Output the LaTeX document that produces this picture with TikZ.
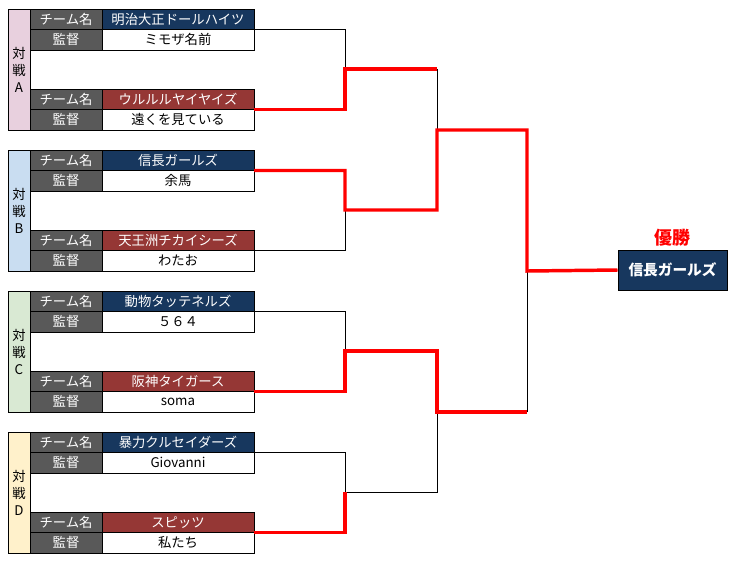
\documentclass[tikz,border=0pt]{standalone}
\usepackage{fontspec}
\setmainfont{Noto Sans CJK JP}
\usetikzlibrary{positioning}

\definecolor{navy}{HTML}{17375E}
\definecolor{wine}{HTML}{953735}
\definecolor{cellgray}{HTML}{595959}
\definecolor{sideA}{HTML}{E8D0DE}
\definecolor{sideB}{HTML}{C9DDF1}
\definecolor{sideC}{HTML}{D9E9D3}
\definecolor{sideD}{HTML}{FFF1CB}

\tikzset{
	cell/.style={draw=black, line width=0.75pt, inner sep=0pt, outer sep=0pt,
		minimum height=15.375pt, font=\fontsize{10}{12}\selectfont},
	headcell/.style={cell, fill=cellgray, text=white, minimum width=54pt},
	teamcell/.style={cell, text=white, minimum width=114pt},
	coachcell/.style={cell, fill=white, minimum width=114pt},
	sidecell/.style={draw=black, line width=0.75pt, inner sep=0pt, outer sep=0pt,
		minimum width=16.5pt, minimum height=90.75pt, align=center,
		font=\fontsize{10}{12.75}\selectfont},
	bline/.style={black, line width=0.75pt},
	wline/.style={red, line width=2.6pt}
}

\begin{document}
\begin{tikzpicture}[x=0.75pt, y=-0.75pt]
	\useasboundingbox (0,0) rectangle (750,562);
	
	% match blocks
	\foreach \m/\yy/\ta/\ca/\tb/\cb in {
		A/9/明治大正ドールハイツ/ミモザ名前/ウルルルヤイヤイズ/遠くを見ている,
		B/150/信長ガールズ/余馬/天王洲チカイシーズ/わたお,
		C/291/動物タッテネルズ/５６４/阪神タイガース/soma,
		D/432/暴力クルセイダーズ/Giovanni/スピッツ/私たち} {
		\node [sidecell, fill=side\m, anchor=north west] (side\m) at (8,\yy) {対\\戦\\\m};
		\node [headcell, anchor=north west] (lbl\m1) at (30,\yy) {チーム名};
		\node [teamcell, fill=navy, right=0pt of lbl\m1] (t\m1) {\ta};
		\node [headcell, below=0pt of lbl\m1] (clbl\m1) {監督};
		\node [coachcell, right=0pt of clbl\m1] (c\m1) {\ca};
		\node [headcell, anchor=north west] (lbl\m2) at (30,\yy+80) {チーム名};
		\node [teamcell, fill=wine, right=0pt of lbl\m2] (t\m2) {\tb};
		\node [headcell, below=0pt of lbl\m2] (clbl\m2) {監督};
		\node [coachcell, right=0pt of clbl\m2] (c\m2) {\cb};
	}
	
	% winner
	\node [draw=black, line width=0.75pt, fill=navy, text=white, inner sep=0pt,
		minimum width=81.75pt, minimum height=30pt,
		font=\bfseries\fontsize{11}{13}\selectfont] (win) at (672.5,270) {信長ガールズ};
	\node [above=2.5pt of win, inner sep=0pt, text=red,
		font=\bfseries\fontsize{13.5}{15}\selectfont] (title) {優勝};
	
	\coordinate (jA) at (345,69);
	\coordinate (jB) at (345,210);
	\coordinate (jC) at (345,351);
	\coordinate (jD) at (345,492);
	\coordinate (jAB) at (437,130);
	\coordinate (jCD) at (437,412);
	\coordinate (jF) at (527,271);
	
	% losers
	\draw [bline] (tA1.south east) -| (jA);
	\draw [bline] (tB2.south east) -| (jB);
	\draw [bline] (tC1.south east) -| (jC);
	\draw [bline] (tD1.south east) -| (jD);
	\draw [bline] (jA -| jAB) -- (jAB);
	\draw [bline] (jD) -| (jCD);
	\draw [bline] (jCD -| jF) -- (jF);
	
	% winners
	\draw [wline] (tA2.south east) -| (jA) -- (jA -| jAB);
	\draw [wline] (tB1.south east) -| (jB) -| (jAB) -| (jF) -- (win.west);
	\draw [wline] (tC2.south east) -| (jC) -| (jCD) -- (jCD -| jF);
	\draw [wline] (tD2.south east) -| (jD);
	
\end{tikzpicture}
\end{document}
